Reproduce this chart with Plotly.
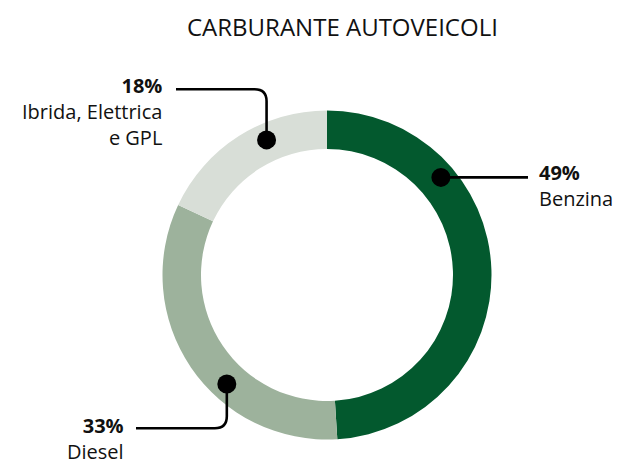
import math
import plotly.graph_objects as go

# ---- data ----
categories = ["Benzina", "Diesel", "Ibrida, Elettrica e GPL"]
values = [49, 33, 18]
pct_labels = ["49%", "33%", "18%"]
name_lines = [["Benzina"], ["Diesel"], ["Ibrida, Elettrica", "e GPL"]]
colors = ["#03592E", "#9DB29C", "#D8DED7"]
title_text = "CARBURANTE AUTOVEICOLI"

# ---- layout constants (pixels) ----
W, H = 618, 462
CX, CY, R_OUT, R_IN = 327, 275, 164.5, 126
FONT = "Open Sans"
INK = "#111111"

fig = go.Figure()
fig.add_trace(go.Pie(
    labels=categories, values=values, sort=False, direction="clockwise",
    rotation=0, hole=R_IN / R_OUT,
    marker=dict(colors=colors, line=dict(width=0)),
    textinfo="none", hoverinfo="skip", showlegend=False,
    domain=dict(x=[(CX - R_OUT) / W, (CX + R_OUT) / W],
                y=[(H - CY - R_OUT) / H, (H - CY + R_OUT) / H]),
))

# callout anchor points on the ring (angle clockwise from 12 o'clock, radius)
anchor_ang = [49.4, 222.6, 335.9]
anchor_r = [150, 148, 148]
dots = []
for a, r in zip(anchor_ang, anchor_r):
    t = math.radians(a)
    dots.append((CX + r * math.sin(t), CY - r * math.cos(t)))

shapes = []
lw = 2.6
rr = 12
# Benzina: straight line to the right
bx, by = dots[0]
shapes.append(dict(type="line", xref="x", yref="y", x0=bx, y0=by, x1=528, y1=by,
                   line=dict(color="#000", width=lw)))
# Diesel: down then left
dx_, dy_ = dots[1]
ly = 428.3
shapes.append(dict(type="path", xref="x", yref="y",
                   path=f"M {dx_},{dy_} L {dx_},{ly - rr} Q {dx_},{ly} {dx_ - rr},{ly} L 136,{ly}",
                   line=dict(color="#000", width=lw)))
# Ibrida: left line then down
ix, iy = dots[2]
ty = 89.3
shapes.append(dict(type="path", xref="x", yref="y",
                   path=f"M 176,{ty} L {ix - rr},{ty} Q {ix},{ty} {ix},{ty + rr} L {ix},{iy}",
                   line=dict(color="#000", width=lw)))
# dots
DR = 9.5
for (px, py) in dots:
    shapes.append(dict(type="circle", xref="x", yref="y",
                       x0=px - DR, x1=px + DR, y0=py - DR, y1=py + DR,
                       fillcolor="#000", line=dict(width=0)))

ann = []
def block(x, y, pct, lines, anchor, size=20):
    text = f"<b>{pct}</b><br>" + "<br>".join(lines)
    ann.append(dict(x=x, y=y, xref="x", yref="y", text=text, align=anchor,
                    showarrow=False, xanchor=anchor, yanchor="middle",
                    font=dict(family=FONT, size=size, color=INK)))

ann.append(dict(x=342, y=26.5, xref="x", yref="y", text=title_text, showarrow=False,
                xanchor="center", yanchor="middle",
                font=dict(family=FONT, size=24, color=INK)))
block(537, 185.5, pct_labels[0], name_lines[0], "left")
block(126, 438.5, pct_labels[1], name_lines[1], "right")
block(164, 111.5, pct_labels[2], name_lines[2], "right")

fig.update_layout(
    width=W, height=H, margin=dict(l=0, r=0, t=0, b=0),
    paper_bgcolor="white", plot_bgcolor="rgba(0,0,0,0)",
    xaxis=dict(range=[0, W], visible=False, fixedrange=True),
    yaxis=dict(range=[H, 0], visible=False, fixedrange=True),
    shapes=shapes, annotations=ann,
)
fig.write_html("out.html", config={"displayModeBar": False},
               post_script="document.body.style.margin='0';")
